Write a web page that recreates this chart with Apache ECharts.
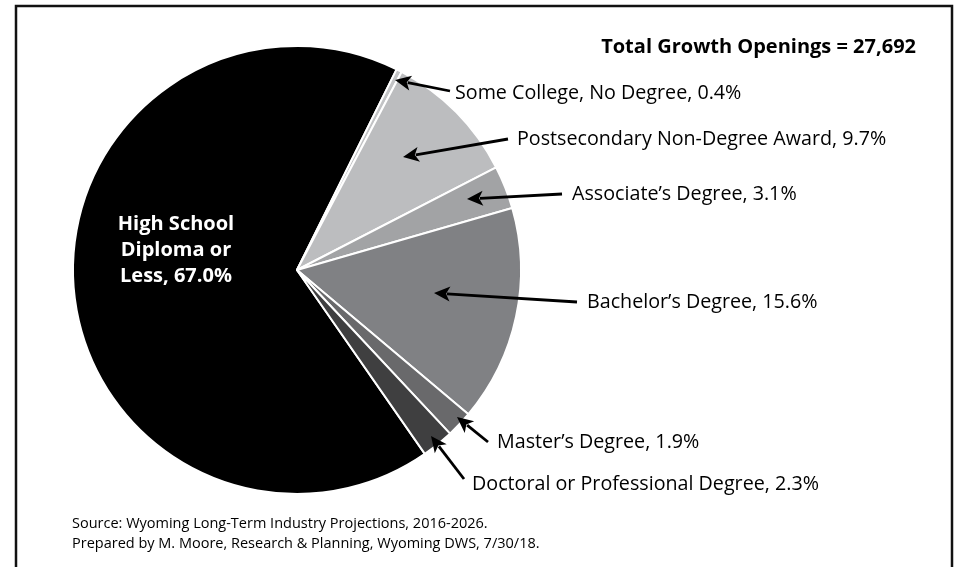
<!DOCTYPE html>
<html>
<head>
<meta charset="utf-8">
<script src="https://cdn.jsdelivr.net/npm/echarts@6/dist/echarts.min.js"></script>
<style>
html,body{margin:0;padding:0;background:#fff;}
#chart_main{width:959px;height:567px;}
</style>
</head>
<body>
<div id="chart_main"></div>
<script type="text/javascript">
// data
var categories = ['High School\nDiploma or\nLess', 'Some College, No Degree', 'Postsecondary Non-Degree Award', 'Associate’s Degree', 'Bachelor’s Degree', 'Master’s Degree', 'Doctoral or Professional Degree'];
var shares = [67.0, 0.4, 9.7, 3.1, 15.6, 1.9, 2.3];
var totalOpenings = 27692;
var sourceLines = ['Source: Wyoming Long-Term Industry Projections, 2016-2026.', 'Prepared by M. Moore, Research & Planning, Wyoming DWS, 7/30/18.'];

var colors = ['#000000', '#c2c3c5', '#bcbdbf', '#a2a3a5', '#808184', '#69696b', '#3f3f40'];
var FONT = '"Open Sans", sans-serif';

// where each label sits, and the arrow (tail -> tip) pointing to its slice
var labelSpots = [[176, 250, 'center'], [455, 93, 'left'], [517, 139, 'left'], [572, 194, 'left'], [587, 302, 'left'], [497, 442, 'left'], [472, 484, 'left']];
var arrows = [null, [[450, 91], [395, 80]], [[508, 139], [403, 157]], [[562, 194], [467, 199]], [[577, 302], [434, 293]], [[488, 442], [457, 417]], [[464, 479], [431, 436]]];

function arrowShapes(){
	var out = [];
	arrows.forEach(function(a){
		if(!a) return;
		var t = a[0], p = a[1];
		var dx = p[0]-t[0], dy = p[1]-t[1];
		var len = Math.sqrt(dx*dx+dy*dy);
		var ux = dx/len, uy = dy/len;
		var bx = p[0]-ux*16, by = p[1]-uy*16;
		var nx = -uy*7.5, ny = ux*7.5;
		out.push({type:'line', shape:{x1:t[0], y1:t[1], x2:bx+ux*3, y2:by+uy*3}, style:{stroke:'#000', lineWidth:2.8}, z:100});
		out.push({type:'polygon', shape:{points:[[p[0],p[1]],[bx+nx,by+ny],[bx+ux*4,by+uy*4],[bx-nx,by-ny]]}, style:{fill:'#000'}, z:100});
	});
	return out;
}

var myChart = echarts.init(document.getElementById('chart_main'));
var pieData = [];
for(var i=0;i<categories.length;i++){
	var item = {name:categories[i], value:shares[i], itemStyle:{color:colors[i]}};
	if(i==0){
		item.label = {color:'#fff', fontWeight:'bold', fontSize:20, lineHeight:26, align:'center'};
	}
	pieData.push(item);
}
var option = {
	animation:false,
	backgroundColor:'#fff',
	title:{
		text:'Total Growth Openings = ' + totalOpenings.toLocaleString('en-US'),
		right:38, top:32,
		textStyle:{fontFamily:FONT, fontSize:20, fontWeight:'bold', color:'#000'}
	},
	graphic:[
		{type:'rect', shape:{x:16, y:6, width:936, height:600}, style:{fill:null, stroke:'#111', lineWidth:2.5}, z:1},
		{type:'text', left:72, top:514, style:{text:sourceLines.join('\n'), font:'14.5px ' + FONT, lineHeight:20, fill:'#000'}, z:100}
	].concat(arrowShapes()),
	series:[{
		type:'pie',
		center:[297, 270],
		radius:224,
		startAngle:304.8,
		clockwise:true,
		itemStyle:{borderColor:'#fff', borderWidth:2},
		label:{
			show:true,
			overflow:'none',
			fontFamily:FONT, fontSize:19.7, color:'#000',
			formatter:function(p){ return p.name + ', ' + p.value.toFixed(1) + '%'; }
		},
		labelLine:{show:false},
		labelLayout:function(p){
			var s = labelSpots[p.dataIndex];
			return {x:s[0], y:s[1], align:s[2], verticalAlign:'middle'};
		},
		emphasis:{disabled:true},
		data:pieData
	}]
};
myChart.setOption(option);
</script>
</body>
</html>
